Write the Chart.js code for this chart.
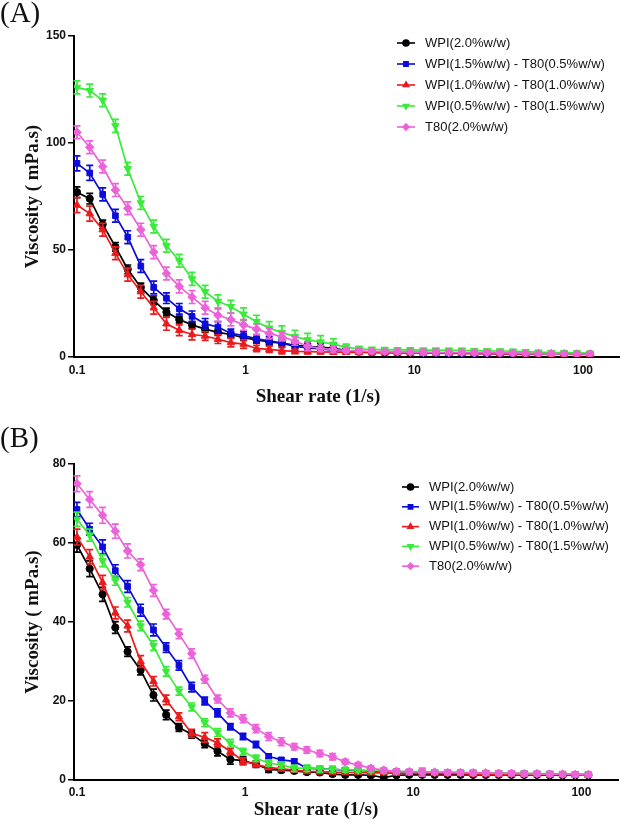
<!DOCTYPE html>
<html>
<head>
<meta charset="utf-8">
<script src="https://cdn.jsdelivr.net/npm/chart.js@4.4.1/dist/chart.umd.min.js"></script>
<style>
  body { margin: 0; background: #fff; width: 625px; height: 826px; position: relative; overflow: hidden; }
  canvas { position: absolute; left: 0; }
  #chartA { top: 0; }
  #chartB { top: 412px; }
  .panel { position: absolute; left: 0; font-family: "Liberation Serif", "Times New Roman", serif; font-size: 29px; line-height: 1; color: #111; }
</style>
</head>
<body>
<canvas id="chartA" width="625" height="412"></canvas>
<canvas id="chartB" width="625" height="414"></canvas>
<div class="panel" style="top:-2px">(A)</div>
<div class="panel" style="top:423px">(B)</div>
<script>
// shear rate (1/s), same points in both panels
const shearRate = [0.100, 0.119, 0.142, 0.169, 0.200, 0.239, 0.285, 0.339, 0.404, 0.481,
  0.575, 0.685, 0.817, 0.972, 1.16, 1.38, 1.64, 1.96, 2.33, 2.78,
  3.31, 3.94, 4.70, 5.60, 6.67, 7.94, 9.46, 11.3, 13.4, 16.0,
  19.1, 22.7, 27.0, 32.2, 38.4, 45.7, 54.4, 64.9, 77.3, 92.0,
  110];
const xTickValues = [0.1, 1, 10, 100];
const yTicksA = [0, 50, 100, 150];
const yTicksB = [0, 20, 40, 60, 80];
const seriesNames = ['WPI(2.0%w/w)', 'WPI(1.5%w/w) - T80(0.5%w/w)', 'WPI(1.0%w/w) - T80(1.0%w/w)',
  'WPI(0.5%w/w) - T80(1.5%w/w)', 'T80(2.0%w/w)'];

// panel A viscosity (mPa.s)
const a_wpi20 = [77, 74, 62, 51.5, 41, 32.5, 26.5, 21, 17.5, 15,
  13, 11.5, 10.5, 9, 8, 7, 6.5, 5.5, 5, 4.5,
  4.2, 3, 2.5, 2.3, 2.2, 2.1, 2.0, 2.0, 1.9, 1.9,
  1.8, 1.8, 1.7, 1.7, 1.6, 1.6, 1.5, 1.5, 1.4, 1.4, 1.3];
const a_wpi15 = [90.5, 86, 76, 66, 56, 42.5, 32.5, 27.5, 22.5, 19,
  15.5, 14, 11, 10, 8.5, 7.5, 6.5, 5, 4.2, 3.8,
  3.2, 2.8, 2.5, 2.3, 2.2, 2.1, 2.0, 1.9, 1.9, 1.8,
  1.8, 1.7, 1.7, 1.6, 1.6, 1.5, 1.5, 1.4, 1.4, 1.3, 1.3];
const a_wpi10 = [71, 67, 59.5, 48.5, 38.5, 30.5, 23, 15.5, 12.5, 10.5,
  9.8, 8.3, 6.7, 6, 4, 3.6, 3, 2.6, 2.5, 2.4,
  2.3, 2.2, 2.1, 2.0, 2.0, 1.9, 1.9, 1.8, 1.8, 1.7,
  1.7, 1.6, 1.6, 1.5, 1.5, 1.4, 1.4, 1.3, 1.3, 1.2, 1.2];
const a_wpi05 = [126, 124.5, 120, 108, 88, 72, 61, 52, 45, 36.5,
  30.5, 26, 23.5, 20, 16.5, 13.5, 11.5, 9.5, 8, 7,
  6, 4.5, 3.8, 3.5, 3.4, 3.3, 3.3, 3.2, 3.2, 3.1,
  3.1, 3.0, 2.9, 2.8, 2.7, 2.5, 2.3, 2.1, 2.0, 1.9, 1.8];
const a_t80 = [105, 98, 89, 78, 69.5, 59.5, 49, 39, 33, 28,
  23, 19.5, 17.5, 15, 13, 11, 9.5, 7.5, 5, 4,
  3.5, 3, 2.8, 2.6, 2.5, 2.4, 2.3, 2.2, 2.2, 2.1,
  2.1, 2.0, 2.0, 1.9, 1.8, 1.7, 1.6, 1.5, 1.5, 1.4, 1.4];

// panel A error bars
const a_wpi20_err = [2.5, 2.5, 2, 2, 2, 2, 2, 1.8, 1.6, 1.5, 1.5, 1.4, 1.3, 1.3, 1.2, 1.2, 1.2, 1.5, 2, 2,
  2, 1, 0.8, 0.7, 0.6, 0.6, 0.5, 0.5, 0.5, 0.5, 0.5, 0.5, 0.5, 0.5, 0.5, 0.5, 0.5, 0.5, 0.5, 0.5, 0.5];
const a_wpi15_err = [3.5, 3.5, 3, 3, 3, 3, 3, 2.5, 2.5, 2.5, 2.5, 2.5, 2, 2, 2, 2, 2, 2, 2, 1.5,
  1.5, 1, 1, 0.8, 0.8, 0.7, 0.7, 0.6, 0.6, 0.6, 0.6, 0.5, 0.5, 0.5, 0.5, 0.5, 0.5, 0.5, 0.5, 0.5, 0.5];
const a_wpi10_err = [3.5, 3.5, 3, 3, 3, 3, 3, 3, 2.5, 2.5, 2, 2, 2, 2, 1.5, 1.5, 1.5, 1, 1, 1,
  1, 0.8, 0.7, 0.6, 0.6, 0.5, 0.5, 0.5, 0.5, 0.5, 0.5, 0.5, 0.5, 0.5, 0.5, 0.5, 0.5, 0.5, 0.5, 0.5, 0.5];
const a_wpi05_err = [3, 3, 3, 3, 3, 3, 3, 3, 3, 3, 3, 3, 3, 3, 3, 3, 3, 3, 3, 3,
  2.5, 1.5, 1.2, 1, 1, 1, 1, 0.9, 0.9, 0.9, 0.9, 0.8, 0.8, 0.8, 0.7, 0.7, 0.6, 0.6, 0.5, 0.5, 0.5];
const a_t80_err = [3, 3, 3, 3, 3, 3, 3, 3, 3, 3, 3, 3, 3, 2.5, 2.5, 2.5, 2, 2, 2, 1.5,
  1.5, 1, 1, 0.9, 0.8, 0.8, 0.8, 1.2, 1.2, 1.0, 0.8, 0.8, 0.7, 0.7, 0.6, 0.6, 0.6, 0.5, 0.5, 0.5, 0.5];

// panel B viscosity (mPa.s)
const b_wpi20 = [59.5, 53.5, 47, 38.6, 32.5, 27.8, 21.5, 16.5, 13.3, 11.6,
  9.2, 7.3, 5.2, 4.9, 4.0, 2.7, 2.5, 2.3, 2.0, 1.9,
  1.5, 1.3, 1.3, 1.2, 0.6, 1.2, 1.3, 1.3, 1.3, 1.3,
  1.3, 1.3, 1.3, 1.3, 1.3, 1.3, 1.3, 1.2, 1.2, 1.2, 1.2];
const b_wpi15 = [68.5, 63.5, 59, 53, 49, 43, 38, 33.5, 29, 23.5,
  20, 17, 13.5, 11, 9, 6, 5.1, 4.7, 3, 2.8,
  2.7, 2.5, 2.4, 2.3, 2.2, 2.1, 2.0, 2.0, 1.9, 1.9,
  1.8, 1.8, 1.7, 1.7, 1.6, 1.6, 1.5, 1.5, 1.4, 1.4, 1.3];
const b_wpi10 = [61.5, 56.5, 50, 42.3, 39, 30, 25, 20.3, 16, 11.8,
  10.8, 9.4, 7.2, 4.8, 3.9, 3.2, 2.8, 2.5, 2.2, 2.1,
  2.0, 1.9, 1.9, 1.8, 1.8, 1.7, 1.7, 1.7, 1.6, 1.6,
  1.6, 1.5, 1.5, 1.5, 1.4, 1.4, 1.4, 1.3, 1.3, 1.3, 1.2];
const b_wpi05 = [66, 62, 55.5, 50.5, 45, 39, 34, 27.5, 22.5, 18.5,
  14.5, 12, 9.3, 7.2, 5.5, 4.3, 3.8, 3.0, 3.0, 2.8,
  2.7, 2.6, 2.5, 2.4, 2.3, 2.2, 2.1, 2.1, 2.0, 2.0,
  1.9, 1.9, 1.8, 1.8, 1.7, 1.7, 1.6, 1.6, 1.5, 1.5, 1.4];
const b_t80 = [75, 71, 67, 63, 58, 54.5, 48, 42, 37, 32,
  25.5, 20.5, 17, 15.5, 13, 11, 9.7, 8.4, 7.6, 6.7,
  5.9, 4.6, 3.8, 3.0, 2.5, 2.2, 2.1, 2.0, 2.0, 1.9,
  1.9, 1.8, 1.8, 1.7, 1.7, 1.6, 1.6, 1.5, 1.5, 1.4, 1.4];

// panel B error bars
const b_wpi20_err = [1.8, 2, 1.8, 1.5, 1.2, 1.2, 1.5, 1.2, 1, 1, 1, 1.2, 1.2, 1, 0.8, 0.8, 0.6, 0.5, 0.5, 0.5,
  0.5, 0.4, 0.4, 0.4, 0.6, 0.4, 0.4, 0.4, 0.4, 0.4, 0.4, 0.4, 0.4, 0.4, 0.4, 0.4, 0.4, 0.4, 0.4, 0.4, 0.4];
const b_wpi15_err = [1.8, 1.5, 1.8, 1.5, 1.5, 1.5, 1.5, 1.2, 1.2, 1.2, 1, 1, 0.8, 0.8, 0.8, 0.6, 0.5, 0.5, 0.5, 0.5,
  0.5, 0.4, 0.4, 0.4, 0.4, 0.4, 0.4, 0.4, 0.4, 0.4, 0.4, 0.4, 0.4, 0.4, 0.4, 0.4, 0.4, 0.4, 0.4, 0.4, 0.4];
const b_wpi10_err = [2, 1.8, 1.8, 1.5, 1.5, 1.5, 1.2, 1.2, 1, 1, 1.2, 1, 0.8, 0.8, 0.6, 0.6, 0.5, 0.5, 0.5, 0.5,
  0.5, 0.4, 0.4, 0.4, 0.4, 0.4, 0.4, 0.4, 0.4, 0.4, 0.4, 0.4, 0.4, 0.4, 0.4, 0.4, 0.4, 0.4, 0.4, 0.4, 0.4];
const b_wpi05_err = [1.8, 1.5, 1.5, 1.2, 1.2, 1.2, 1.2, 1.2, 1, 1, 1, 1, 1, 0.8, 0.8, 0.8, 0.8, 0.8, 0.8, 0.8,
  0.8, 0.6, 0.6, 0.5, 0.5, 0.5, 0.5, 0.5, 0.5, 0.5, 0.5, 0.5, 0.5, 0.5, 0.5, 0.5, 0.5, 0.5, 0.5, 0.5, 0.5];
const b_t80_err = [2, 2, 2, 1.8, 1.8, 1.5, 1.5, 1.2, 1.2, 1.2, 1, 1, 1, 1, 1, 1, 1, 0.8, 0.8, 0.8,
  0.8, 0.6, 0.6, 0.6, 0.6, 0.6, 0.6, 1.0, 0.6, 0.6, 0.6, 0.6, 0.6, 0.6, 0.6, 0.6, 0.6, 0.6, 0.6, 0.6, 0.6];

const colors = ['#000000', '#0b0bdc', '#ec1a1c', '#3aea3a', '#ec62d8'];
const shapes = [
  { style: 'circle', rot: 0, r: 3.6 },
  { style: 'rect', rot: 0, r: 4 },
  { style: 'triangle', rot: 0, r: 4.3 },
  { style: 'triangle', rot: 180, r: 4.3 },
  { style: 'rectRot', rot: 0, r: 4.3 }
];
const tickFont = { family: '"Liberation Sans", Arial, sans-serif', size: 12, weight: 'bold' };
const titleFont = { family: '"Liberation Serif", "Times New Roman", serif', size: 19, weight: 'bold' };

// vertical error bars, drawn just before each series
const errorBars = {
  id: 'errorBars',
  beforeDatasetDraw(chart, args) {
    const ds = chart.data.datasets[args.index];
    const ys = chart.scales.y;
    const ctx = chart.ctx;
    ctx.save();
    ctx.strokeStyle = ds.borderColor;
    ctx.lineWidth = 1.7;
    args.meta.data.forEach((pt, i) => {
      const v = ds.data[i].y, e = ds.err[i];
      const top = ys.getPixelForValue(v + e);
      const bot = ys.getPixelForValue(Math.max(v - e, 0));
      ctx.beginPath();
      ctx.moveTo(pt.x, top); ctx.lineTo(pt.x, bot);
      ctx.moveTo(pt.x - 3.5, top); ctx.lineTo(pt.x + 3.5, top);
      ctx.moveTo(pt.x - 3.5, bot); ctx.lineTo(pt.x + 3.5, bot);
      ctx.stroke();
    });
    ctx.restore();
  }
};

// legend: line with marker, then label
const sideLegend = {
  id: 'sideLegend',
  afterDraw(chart, args, opts) {
    const ctx = chart.ctx;
    chart.data.datasets.forEach((ds, k) => {
      const y = opts.y + k * opts.gap;
      ctx.save();
      ctx.strokeStyle = ds.borderColor;
      ctx.fillStyle = ds.backgroundColor;
      ctx.lineWidth = 1.6;
      ctx.beginPath();
      ctx.moveTo(opts.x, y); ctx.lineTo(opts.x + opts.len, y);
      ctx.stroke();
      Chart.helpers.drawPoint(ctx, { pointStyle: ds.pointStyle, rotation: ds.rotation, radius: 3, borderWidth: 1 },
        opts.x + opts.len / 2, y);
      ctx.fillStyle = '#111';
      ctx.font = '13px "Liberation Sans", Arial, sans-serif';
      ctx.textBaseline = 'middle';
      ctx.fillText(ds.label, opts.textX, y);
      ctx.restore();
    });
  }
};

function makeDatasets(values, errors) {
  return values.map((vals, k) => ({
    label: seriesNames[k],
    data: shearRate.map((x, i) => ({ x: x, y: vals[i] })),
    err: errors[k],
    borderColor: colors[k],
    backgroundColor: colors[k],
    borderWidth: 1.7,
    pointStyle: shapes[k].style,
    rotation: shapes[k].rot,
    pointRadius: shapes[k].r,
    pointBorderWidth: 1,
    order: 4 - k
  }));
}

function buildChart(id, cfg) {
  return new Chart(document.getElementById(id), {
    type: 'line',
    data: { datasets: makeDatasets(cfg.values, cfg.errors) },
    options: {
      responsive: false,
      animation: false,
      layout: { padding: { top: cfg.padTop, right: cfg.padRight, left: 14, bottom: 0 } },
      scales: {
        x: {
          type: 'logarithmic', min: 0.096, max: 165,
          afterBuildTicks: s => { s.ticks = xTickValues.map(v => ({ value: v })); },
          afterFit: s => { s.height = cfg.xAxisHeight; },
          grid: { display: false, drawTicks: false },
          border: { display: true, color: '#000', width: 2 },
          ticks: { autoSkip: false, maxRotation: 0, padding: cfg.xTickPad, color: '#111', font: tickFont,
            callback: v => String(v) }
        },
        y: {
          min: 0, max: cfg.yMax,
          afterBuildTicks: s => { s.ticks = cfg.yTicks.map(v => ({ value: v })); },
          afterFit: s => { s.width = 60; },
          grid: { drawOnChartArea: false, tickLength: 6, color: '#000', lineWidth: 1.5 },
          border: { display: true, color: '#000', width: 2 },
          ticks: { padding: 2, color: '#111', font: tickFont },
          title: { display: true, text: 'Viscosity ( mPa.s)', color: '#111', font: titleFont, padding: { top: 8, bottom: 0 } }
        }
      },
      plugins: {
        legend: { display: false },
        tooltip: { enabled: false },
        title: { display: true, position: 'bottom', text: 'Shear rate (1/s)', color: '#111', font: titleFont,
          padding: cfg.titlePad },
        sideLegend: cfg.legend
      }
    },
    plugins: [errorBars, sideLegend]
  });
}

buildChart('chartA', {
  values: [a_wpi20, a_wpi15, a_wpi10, a_wpi05, a_t80],
  errors: [a_wpi20_err, a_wpi15_err, a_wpi10_err, a_wpi05_err, a_t80_err],
  yMax: 150, yTicks: yTicksA,
  padTop: 36, padRight: 3, xAxisHeight: 24.2, xTickPad: 6,
  titlePad: { top: 4, bottom: 4 },
  legend: { x: 397, y: 43, gap: 21, len: 18, textX: 425 }
});

buildChart('chartB', {
  values: [b_wpi20, b_wpi15, b_wpi10, b_wpi05, b_t80],
  errors: [b_wpi20_err, b_wpi15_err, b_wpi10_err, b_wpi05_err, b_t80_err],
  yMax: 80, yTicks: yTicksB,
  padTop: 52, padRight: 7, xAxisHeight: 18.2, xTickPad: 5,
  titlePad: { top: 0, bottom: 5 },
  legend: { x: 402, y: 75, gap: 19.8, len: 17, textX: 429 }
});
</script>
</body>
</html>
